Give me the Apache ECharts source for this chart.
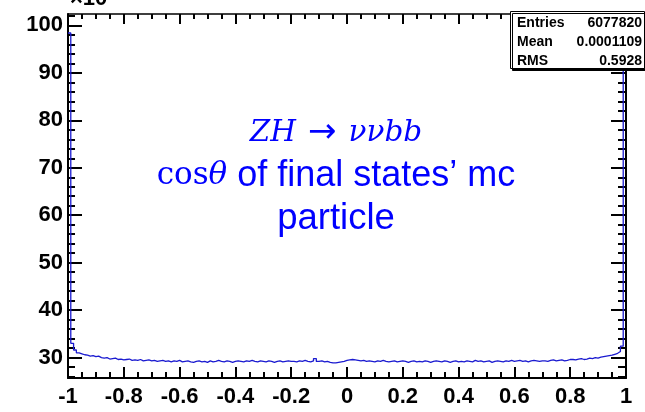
<!DOCTYPE html>
<html><head><meta charset="utf-8">
<script src="https://cdn.jsdelivr.net/npm/echarts@6/dist/echarts.min.js"></script>
<style>html,body{margin:0;padding:0;background:#fff}#c{width:645px;height:412px}</style>
</head><body><div id="c"></div>
<script>
// ---- data (counts in units of 10^3) ----
const BIN_LOW = -1;
const BIN_HIGH = 1;
const N_BINS = 200;
const counts = [
  98.4, 33.0, 31.6, 31.0, 30.8, 30.6, 30.5, 30.3, 30.4, 30.2,
  30.3, 30.0, 29.9, 30.0, 29.7, 29.8, 29.9, 29.6, 29.7, 29.5,
  29.6, 29.7, 29.4, 29.5, 29.4, 29.6, 29.3, 29.4, 29.5, 29.3,
  29.4, 29.2, 29.3, 29.4, 29.2, 29.3, 29.1, 29.3, 29.2, 29.4,
  29.1, 29.2, 29.3, 29.1, 29.0, 29.2, 29.3, 29.1, 29.2, 29.0,
  29.3, 29.1, 29.2, 29.4, 29.2, 29.1, 29.3, 29.2, 29.0, 29.2,
  29.3, 29.2, 29.1, 29.3, 29.2, 29.4, 29.2, 29.1, 29.3, 29.2,
  29.1, 29.3, 29.2, 29.0, 29.2, 29.3, 29.1, 29.2, 29.3, 29.2,
  29.2, 29.1, 29.3, 29.2, 29.4, 29.2, 29.1, 29.3, 29.8, 29.2,
  29.3, 29.1, 29.2, 29.0, 28.9, 28.9, 29.0, 29.1, 29.2, 29.4,
  29.5, 29.6, 29.5, 29.4, 29.3, 29.4, 29.2, 29.3, 29.2, 29.1,
  29.3, 29.2, 29.4, 29.2, 29.1, 29.2, 29.3, 29.1, 29.2, 29.3,
  29.2, 29.0, 29.2, 29.3, 29.1, 29.2, 29.1, 29.3, 29.2, 29.0,
  29.2, 29.3, 29.2, 29.1, 29.3, 29.2, 29.0, 29.2, 29.3, 29.1,
  29.2, 29.1, 29.3, 29.2, 29.1, 29.4, 29.2, 29.3, 29.1, 29.2,
  29.3, 29.0, 29.2, 29.3, 29.2, 29.1, 29.3, 29.2, 29.4, 29.2,
  29.3, 29.4, 29.2, 29.3, 29.1, 29.3, 29.4, 29.3, 29.2, 29.3,
  29.3, 29.2, 29.4, 29.5, 29.3, 29.4, 29.5, 29.3, 29.4, 29.6,
  29.6, 29.5, 29.7, 29.8, 29.6, 29.7, 29.9, 29.8, 30.0, 29.9,
  30.1, 30.2, 30.3, 30.4, 30.5, 30.7, 30.9, 31.3, 32.4, 98.0
];
const Y_MIN = 25.7;
const Y_MAX = 102.4;
const yMajorTicks = [30, 40, 50, 60, 70, 80, 90, 100];
const yMinorTicks = [26, 28, 32, 34, 36, 38, 42, 44, 46, 48, 52, 54, 56, 58, 62, 64, 66, 68,
                     72, 74, 76, 78, 82, 84, 86, 88, 92, 94, 96, 98, 102];
const xTickStep = 0.2;
const statNames = ['Entries', 'Mean', 'RMS'];
const statValues = ['6077820', '0.0001109', '0.5928'];
const exponentLabel = '×10³';

// ---- build histogram outline (each bin: left edge & right edge at its content) ----
const binW = (BIN_HIGH - BIN_LOW) / N_BINS;
const histData = [];
counts.forEach((v, i) => {
  histData.push([BIN_LOW + i * binW, v]);
  histData.push([BIN_LOW + (i + 1) * binW, v]);
});

const chart = echarts.init(document.getElementById('c'), null, {renderer: 'canvas'});
const black = '#000';
const blue = '#0000ff';
const labelFont = {fontFamily: 'Liberation Sans, Arial, sans-serif', fontWeight: 'bold', fontSize: 22, color: black};

function yAx(pos, ticks, len, showLine, showLabel) {
  return {
    type: 'value', position: pos, min: Y_MIN, max: Y_MAX,
    axisLine: {show: showLine, onZero: false, lineStyle: {color: black, width: 2}},
    axisTick: {show: true, inside: true, length: len, customValues: ticks, lineStyle: {color: black, width: 2}},
    axisLabel: Object.assign({show: showLabel, customValues: yMajorTicks, margin: 5}, labelFont),
    splitLine: {show: false}, minorTick: {show: false}
  };
}
function xAx(pos, majorLen, minorLen, showLabel, lineW) {
  return {
    type: 'value', position: pos, min: BIN_LOW, max: BIN_HIGH, interval: xTickStep,
    axisLine: {show: true, onZero: false, lineStyle: {color: black, width: lineW}},
    axisTick: {show: true, inside: true, length: majorLen, lineStyle: {color: black, width: 2}},
    minorTick: {show: true, splitNumber: 4, length: minorLen, lineStyle: {color: black, width: 2}},
    axisLabel: Object.assign({show: showLabel, margin: 8}, labelFont),
    splitLine: {show: false}
  };
}

chart.setOption({
  animation: false,
  backgroundColor: '#fff',
  grid: {left: 68, right: 19, top: 14, bottom: 34, containLabel: false},
  xAxis: [
    xAx('bottom', 11, 6, true, 2),
    xAx('top', 10, 5, false, 1.5)
  ],
  yAxis: [
    yAx('left', yMajorTicks, 14, true, true),
    yAx('left', yMinorTicks, 7, false, false),
    yAx('right', yMajorTicks, 15, true, false),
    yAx('right', yMinorTicks, 8, false, false)
  ],
  series: [{
    type: 'line', xAxisIndex: 0, yAxisIndex: 0,
    data: histData, showSymbol: false, symbol: 'none',
    lineStyle: {color: '#1a1ad0', width: 1.3}, z: 5
  }],
  graphic: [
    {type: 'text', z: 100, x: 70, y: 10,
     style: {text: exponentLabel, font: 'bold 22px Liberation Sans', fill: black, textAlign: 'left', textVerticalAlign: 'bottom'}},
    {type: 'rect', z: 100, shape: {x: 510.5, y: 11.5, width: 134, height: 57},
     style: {fill: '#fff', stroke: black, lineWidth: 1, shadowColor: '#000', shadowOffsetX: 2, shadowOffsetY: 2, shadowBlur: 0}},
    ...statNames.map((n, i) => ({type: 'text', z: 101, x: 517, y: 23.5 + i * 19,
      style: {text: n, font: 'bold 14px Liberation Sans', fill: black, textAlign: 'left', textVerticalAlign: 'middle'}})),
    ...statValues.map((n, i) => ({type: 'text', z: 101, x: 642, y: 23.5 + i * 19,
      style: {text: n, font: 'bold 14px Liberation Sans', fill: black, textAlign: 'right', textVerticalAlign: 'middle'}})),
    {type: 'text', z: 100, x: 336, y: 133,
     style: {text: '{a|ZH}{b|→}{a|ννbb}', textAlign: 'center', textVerticalAlign: 'middle',
       rich: {
         a: {fontFamily: 'DejaVu Serif', fontStyle: 'italic', fontSize: 29.5, fill: blue},
         b: {fontFamily: 'DejaVu Sans', fontSize: 34, padding: [0, 12], fill: blue}
       }}},
    {type: 'text', z: 100, x: 336, y: 176,
     style: {text: '{m|cos}{t|θ}{s| of final states’ mc}', textAlign: 'center', textVerticalAlign: 'middle',
       rich: {
         m: {fontFamily: 'DejaVu Serif', fontSize: 31, fill: blue},
         t: {fontFamily: 'DejaVu Serif', fontStyle: 'italic', fontSize: 31, fill: blue},
         s: {fontFamily: 'Liberation Sans', fontSize: 36, fill: blue}
       }}},
    {type: 'text', z: 100, x: 336, y: 219,
     style: {text: 'particle', font: '36.5px Liberation Sans', fill: blue, textAlign: 'center', textVerticalAlign: 'middle'}}
  ]
});
</script>
</body></html>
